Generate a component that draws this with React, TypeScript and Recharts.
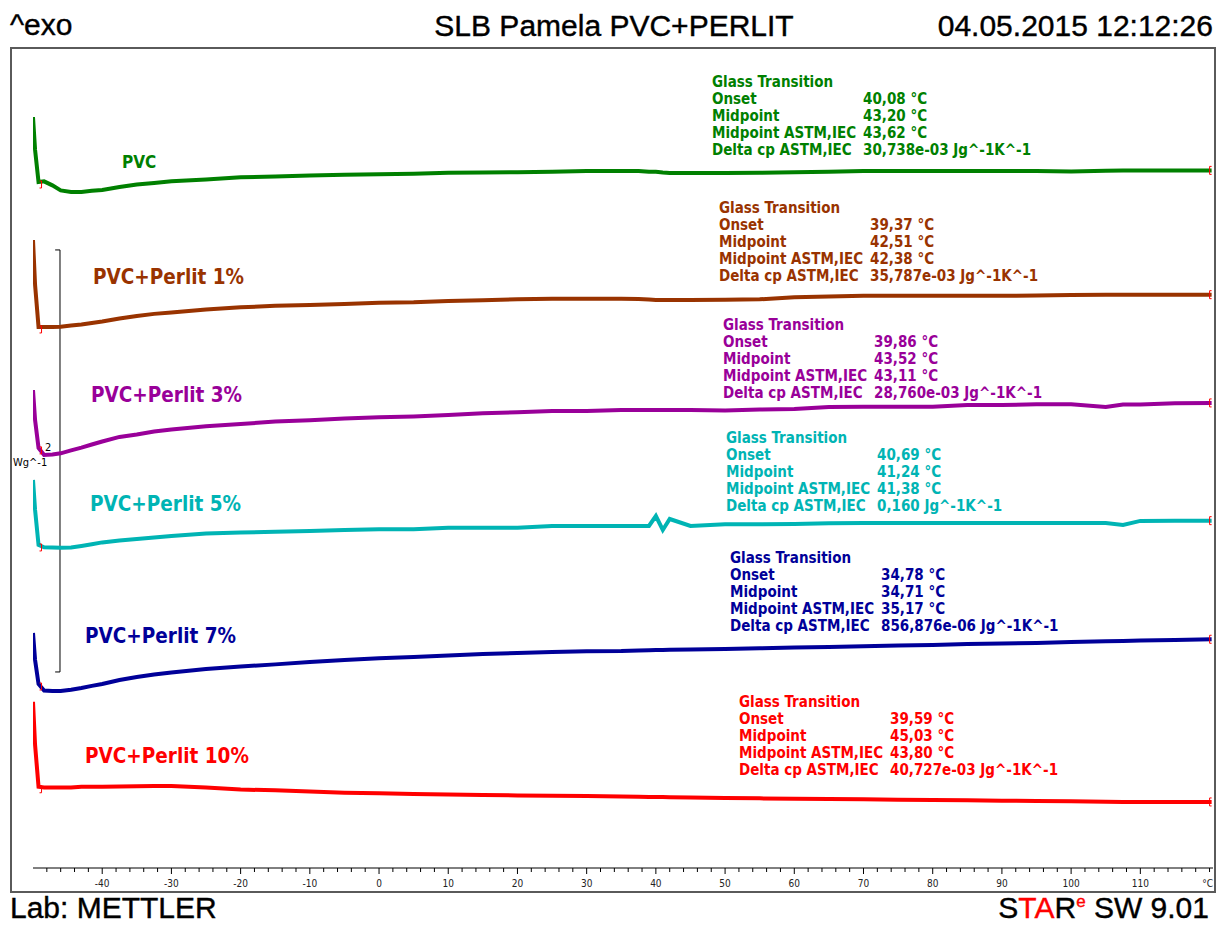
import React from 'react'
import { LineChart, Line, XAxis, YAxis, ReferenceLine } from 'recharts'

// temperature grid (°C) shared by all curves
const temps = [
  -50, -49.7, -49.2, -48.4, -47.2, -46, -44.5, -43, -41.5, -40, -37.5, -35, -32.5, -30, -25, -20, -15, -10, -5, 0,
  5, 10, 15, 20, 25, 30, 35, 37.5, 39, 40, 41, 42, 45, 50, 55, 60, 65, 70, 75, 80, 85, 90, 95, 100, 105, 107.5, 110,
  115, 120.3,
]

// heat flow, W/g (curves shifted as in the STARe plot)
const pvc = [
  3.559, 3.403, 3.251, 3.254, 3.235, 3.211, 3.204, 3.204, 3.209, 3.213, 3.227, 3.239, 3.246, 3.254, 3.263, 3.273,
  3.277, 3.282, 3.285, 3.288, 3.29, 3.295, 3.296, 3.297, 3.299, 3.303, 3.303, 3.303, 3.299, 3.299, 3.296, 3.294,
  3.294, 3.294, 3.295, 3.297, 3.299, 3.303, 3.303, 3.303, 3.303, 3.303, 3.303, 3.301, 3.304, 3.305, 3.305, 3.305,
  3.306,
]
const perlit1 = [
  2.976, 2.763, 2.564, 2.564, 2.564, 2.565, 2.571, 2.576, 2.583, 2.59, 2.604, 2.616, 2.626, 2.633, 2.647, 2.657,
  2.664, 2.668, 2.673, 2.679, 2.681, 2.687, 2.69, 2.695, 2.698, 2.698, 2.698, 2.697, 2.694, 2.692, 2.692, 2.692,
  2.692, 2.693, 2.695, 2.705, 2.708, 2.712, 2.712, 2.712, 2.712, 2.712, 2.713, 2.716, 2.717, 2.717, 2.717, 2.717,
  2.717,
]
const perlit3 = [
  2.265, 2.123, 1.991, 1.957, 1.96, 1.965, 1.979, 1.992, 2.007, 2.021, 2.043, 2.054, 2.069, 2.078, 2.093, 2.104,
  2.116, 2.122, 2.13, 2.136, 2.14, 2.147, 2.155, 2.16, 2.166, 2.166, 2.171, 2.171, 2.171, 2.171, 2.171, 2.171,
  2.171, 2.168, 2.173, 2.175, 2.185, 2.186, 2.186, 2.186, 2.194, 2.194, 2.198, 2.198, 2.185, 2.197, 2.197, 2.202,
  2.204,
]
const perlit5 = [
  1.839, 1.697, 1.531, 1.52, 1.519, 1.518, 1.519, 1.526, 1.534, 1.543, 1.552, 1.559, 1.566, 1.573, 1.585, 1.59,
  1.593, 1.597, 1.602, 1.605, 1.605, 1.613, 1.613, 1.613, 1.621, 1.621, 1.621, 1.621, 1.621, 1.668, 1.602, 1.654,
  1.621, 1.629, 1.629, 1.63, 1.634, 1.635, 1.635, 1.635, 1.635, 1.635, 1.635, 1.635, 1.635, 1.626, 1.645, 1.646,
  1.646,
]
const perlit7 = [
  1.114, 0.986, 0.872, 0.841, 0.839, 0.839, 0.845, 0.853, 0.863, 0.872, 0.891, 0.905, 0.917, 0.927, 0.943, 0.955,
  0.965, 0.976, 0.986, 0.994, 1.0, 1.007, 1.014, 1.019, 1.024, 1.027, 1.028, 1.031, 1.032, 1.033, 1.033, 1.034,
  1.036, 1.038, 1.041, 1.045, 1.047, 1.051, 1.055, 1.057, 1.061, 1.064, 1.066, 1.071, 1.074, 1.076, 1.078, 1.081,
  1.084,
]
const perlit10 = [
  0.788, 0.583, 0.385, 0.382, 0.381, 0.381, 0.381, 0.385, 0.385, 0.385, 0.386, 0.388, 0.389, 0.389, 0.381, 0.372,
  0.368, 0.363, 0.357, 0.354, 0.351, 0.348, 0.346, 0.344, 0.342, 0.341, 0.339, 0.338, 0.337, 0.336, 0.336, 0.335,
  0.334, 0.332, 0.33, 0.328, 0.327, 0.326, 0.324, 0.322, 0.321, 0.319, 0.318, 0.316, 0.314, 0.313, 0.313, 0.313,
  0.313,
]

const sampleNames = ['PVC', 'PVC+Perlit 1%', 'PVC+Perlit 3%', 'PVC+Perlit 5%', 'PVC+Perlit 7%', 'PVC+Perlit 10%']
const onset = ['40,08 °C', '39,37 °C', '39,86 °C', '40,69 °C', '34,78 °C', '39,59 °C']
const midpoint = ['43,20 °C', '42,51 °C', '43,52 °C', '41,24 °C', '34,71 °C', '45,03 °C']
const midpointAstm = ['43,62 °C', '42,38 °C', '43,11 °C', '41,38 °C', '35,17 °C', '43,80 °C']
const deltaCp = [
  '30,738e-03 Jg^-1K^-1',
  '35,787e-03 Jg^-1K^-1',
  '28,760e-03 Jg^-1K^-1',
  '0,160 Jg^-1K^-1',
  '856,876e-06 Jg^-1K^-1',
  '40,727e-03 Jg^-1K^-1',
]

const majorTicks = [-40, -30, -20, -10, 0, 10, 20, 30, 40, 50, 60, 70, 80, 90, 100, 110]

const curves = [pvc, perlit1, perlit3, perlit5, perlit7, perlit10]
const colors = ['#008000', '#993300', '#990099', '#00b4b4', '#000099', '#ff0000']
const keys = ['pvc', 'p1', 'p3', 'p5', 'p7', 'p10']

// layout of the text blocks (px)
const nameBoxes = [
  { x: 122, y: 168, size: 17 },
  { x: 93, y: 284, size: 20.5 },
  { x: 91, y: 402, size: 20.5 },
  { x: 90, y: 511, size: 20.5 },
  { x: 85, y: 643, size: 20.5 },
  { x: 85, y: 763, size: 20.5 },
]
const resultBoxes = [
  { x: 712, y: 87 },
  { x: 719, y: 213 },
  { x: 723, y: 330 },
  { x: 726, y: 443 },
  { x: 730, y: 563 },
  { x: 739, y: 707 },
]

const rows = temps.map((t, i) => {
  const row: Record<string, number> = { t }
  keys.forEach((k, j) => (row[k] = curves[j][i]))
  return row
})

const minorTicks: number[] = []
for (let v = -48; v <= 120; v += 2) minorTicks.push(v)

const TAHOMA = "'DejaVu Sans Condensed', 'DejaVu Sans', sans-serif"
const ARIAL = "'Liberation Sans', Arial, sans-serif"

function TempTick({ x, y, payload }: any) {
  const major = majorTicks.includes(payload.value)
  return (
    <g>
      <line x1={x} x2={x} y1={y} y2={y + (major ? 6 : 4)} stroke="#000" strokeWidth={1} />
      {major && (
        <text x={x} y={y + 19} textAnchor="middle" fontSize={10} fontFamily={TAHOMA} fontStretch="condensed" fill="#222">
          {payload.value}
        </text>
      )}
    </g>
  )
}

// red evaluation brackets at the start, after the drop and at the end of each curve
function bracketDot(props: any) {
  const { cx, cy, index } = props
  const last = temps.length - 1
  let d = ''
  if (index === 0) d = `M${cx - 1} ${cy - 2}H${cx - 3}V${cy + 6}H${cx - 1}`
  else if (index === 2) d = `M${cx + 1} ${cy - 1}H${cx + 3}V${cy + 6}H${cx + 1}`
  else if (index === last) d = `M${cx} ${cy - 4}H${cx - 2}V${cy + 4}H${cx}`
  if (!d) return <g key={`d${index}`} />
  return <path key={`d${index}`} d={d} stroke="#ff0000" strokeWidth={1} fill="none" />
}

export default function App() {
  return (
    <div style={{ position: 'absolute', left: 0, top: 0, width: 1226, height: 925, background: '#fff' }}>
      <div
        style={{
          position: 'absolute',
          left: 10,
          top: 47,
          width: 1206,
          height: 846,
          border: '2px solid #5a5a5a',
          boxSizing: 'border-box',
        }}
      />
      <div style={{ position: 'absolute', left: 0, top: 0 }}>
        <LineChart width={1226} height={925} data={rows} margin={{ top: 48, right: 13, bottom: 27, left: 33 }}>
          <XAxis
            dataKey="t"
            type="number"
            domain={[-50, 120.5]}
            ticks={minorTicks}
            interval={0}
            height={30}
            tickSize={0}
            tickMargin={0}
            tickLine={false}
            axisLine={{ stroke: '#000', strokeWidth: 1 }}
            tick={<TempTick />}
            allowDataOverflow
          />
          <YAxis type="number" domain={[0, 3.886]} hide allowDataOverflow />
          <ReferenceLine segment={[{ x: -46.1, y: 0.929 }, { x: -46.1, y: 2.929 }]} stroke="#000" ifOverflow="visible" />
          <ReferenceLine segment={[{ x: -46.8, y: 2.929 }, { x: -46.1, y: 2.929 }]} stroke="#000" ifOverflow="visible" />
          <ReferenceLine segment={[{ x: -46.8, y: 0.929 }, { x: -46.1, y: 0.929 }]} stroke="#000" ifOverflow="visible" />
          {keys.map((k, j) => (
            <Line
              key={k}
              dataKey={k}
              type="linear"
              stroke={colors[j]}
              strokeWidth={4}
              dot={bracketDot}
              activeDot={false}
              isAnimationActive={false}
            />
          ))}
        </LineChart>
      </div>
      <svg width={1226} height={925} style={{ position: 'absolute', left: 0, top: 0, pointerEvents: 'none' }}>
        <g fontFamily={ARIAL} fontSize={30} fill="#000" stroke="#000" strokeWidth={0.4}>
          <text x={10} y={35}>
            ^exo
          </text>
          <text x={614} y={36} textAnchor="middle">
            SLB Pamela PVC+PERLIT
          </text>
          <text x={1213} y={36} textAnchor="end">
            04.05.2015 12:12:26
          </text>
        </g>
        <g fontFamily={ARIAL} fontSize={30} fill="#000" stroke="#000" strokeWidth={0.4}>
          <text x={10} y={918}>
            Lab: METTLER
          </text>
          <text x={1209} y={918} textAnchor="end">
            <tspan>S</tspan>
            <tspan fill="#ff0000" stroke="#ff0000">
              TA
            </tspan>
            <tspan>R</tspan>
            <tspan fill="#ff0000" stroke="#ff0000" fontSize={17} dy={-11}>
              e
            </tspan>
            <tspan dy={11}> SW 9.01</tspan>
          </text>
        </g>
        <text x={1213} y={887} fontFamily={TAHOMA} fontStretch="condensed" fontSize={10} fill="#222" textAnchor="end">
          °C
        </text>
        <text x={45} y={451} fontFamily={TAHOMA} fontStretch="condensed" fontSize={11} fill="#000">
          2
        </text>
        <text x={13} y={466} fontFamily={TAHOMA} fontStretch="condensed" fontSize={11} fill="#000">
          Wg^-1
        </text>
        {sampleNames.map((name, j) => (
          <text
            key={name}
            x={nameBoxes[j].x}
            y={nameBoxes[j].y}
            fontFamily={TAHOMA}
            fontStretch="condensed"
            fontWeight="bold"
            fontSize={nameBoxes[j].size}
            fill={colors[j]}
          >
            {name}
          </text>
        ))}
        {resultBoxes.map((b, j) => {
          const lines = [
            ['Glass Transition', ''],
            ['Onset', onset[j]],
            ['Midpoint', midpoint[j]],
            ['Midpoint ASTM,IEC', midpointAstm[j]],
            ['Delta cp ASTM,IEC', deltaCp[j]],
          ]
          return (
            <g key={j} fontFamily={TAHOMA} fontStretch="condensed" fontWeight="bold" fontSize={15} fill={colors[j]}>
              {lines.map(([label, value], i) => (
                <g key={i}>
                  <text x={b.x} y={b.y + i * 17}>
                    {label}
                  </text>
                  {value && (
                    <text x={b.x + 151} y={b.y + i * 17}>
                      {value}
                    </text>
                  )}
                </g>
              ))}
            </g>
          )
        })}
      </svg>
    </div>
  )
}
